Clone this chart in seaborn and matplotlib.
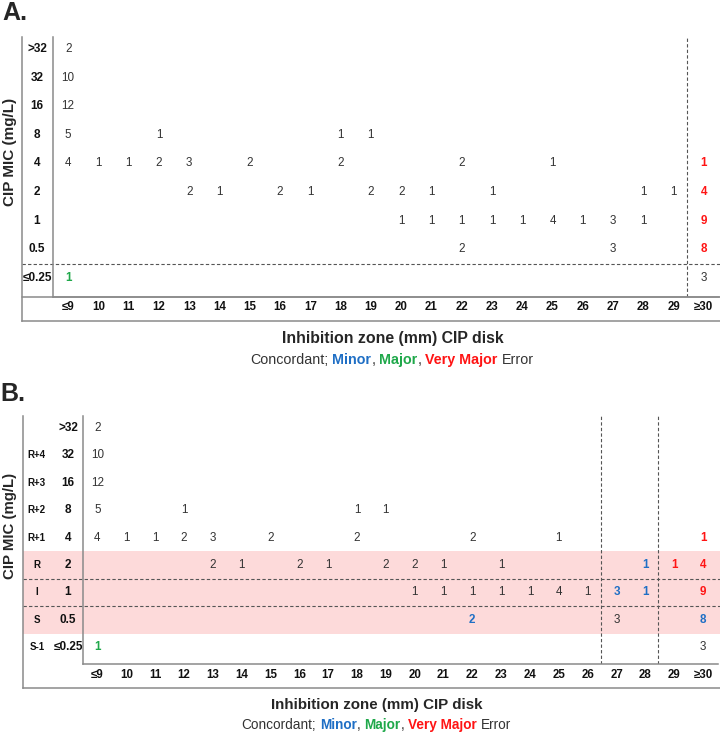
import numpy as np
import pandas as pd
import seaborn as sns
import matplotlib.pyplot as plt
from matplotlib.colors import ListedColormap

sns.set_style('white')
plt.rcParams['font.family'] = ['Liberation Sans', 'DejaVu Sans']

# MIC rows (top to bottom) and disk zone columns
mic_labels = ['>32', '32', '16', '8', '4', '2', '1', '0.5', '≤0.25']
zone_labels = ['≤9', '10', '11', '12', '13', '14', '15', '16', '17', '18', '19',
               '20', '21', '22', '23', '24', '25', '26', '27', '28', '29', '≥30']
band_labels = ['', 'R+4', 'R+3', 'R+2', 'R+1', 'R', 'I', 'S', 'S-1']

# number of isolates per cell, one list per MIC row (columns = zone_labels)
row_gt32 = [2, 0, 0, 0, 0, 0, 0, 0, 0, 0, 0, 0, 0, 0, 0, 0, 0, 0, 0, 0, 0, 0]
row_32 = [10, 0, 0, 0, 0, 0, 0, 0, 0, 0, 0, 0, 0, 0, 0, 0, 0, 0, 0, 0, 0, 0]
row_16 = [12, 0, 0, 0, 0, 0, 0, 0, 0, 0, 0, 0, 0, 0, 0, 0, 0, 0, 0, 0, 0, 0]
row_8 = [5, 0, 0, 1, 0, 0, 0, 0, 0, 1, 1, 0, 0, 0, 0, 0, 0, 0, 0, 0, 0, 0]
row_4 = [4, 1, 1, 2, 3, 0, 2, 0, 0, 2, 0, 0, 0, 2, 0, 0, 1, 0, 0, 0, 0, 1]
row_2 = [0, 0, 0, 0, 2, 1, 0, 2, 1, 0, 2, 2, 1, 0, 1, 0, 0, 0, 0, 1, 1, 4]
row_1 = [0, 0, 0, 0, 0, 0, 0, 0, 0, 0, 0, 1, 1, 1, 1, 1, 4, 1, 3, 1, 0, 9]
row_05 = [0, 0, 0, 0, 0, 0, 0, 0, 0, 0, 0, 0, 0, 2, 0, 0, 0, 0, 3, 0, 0, 8]
row_025 = [1, 0, 0, 0, 0, 0, 0, 0, 0, 0, 0, 0, 0, 0, 0, 0, 0, 0, 0, 0, 0, 3]
counts = np.array([row_gt32, row_32, row_16, row_8, row_4, row_2, row_1, row_05, row_025])

# error category of coloured cells, keyed by (MIC, zone)
errors_a = {('4', '≥30'): 'very major', ('2', '≥30'): 'very major',
            ('1', '≥30'): 'very major', ('0.5', '≥30'): 'very major',
            ('≤0.25', '≤9'): 'major'}
errors_b = {('4', '≥30'): 'very major', ('2', '28'): 'minor', ('2', '29'): 'very major',
            ('2', '≥30'): 'very major', ('1', '27'): 'minor', ('1', '28'): 'minor',
            ('1', '≥30'): 'very major', ('0.5', '22'): 'minor', ('0.5', '≥30'): 'minor',
            ('≤0.25', '≤9'): 'major'}

err_colors = {'minor': '#1f6fc5', 'major': '#1fa84a', 'very major': '#ff1414'}
dark = '#333333'
pink = '#fddada'
frame_c = '#8a8a8a'
dash_c = '#555555'
dash = (0, (3, 2))

W, H = 720, 734
fig = plt.figure(figsize=(W / 100, H / 100), dpi=100)


def frac(left, top, right, bottom):
    return [left / W, 1 - bottom / H, (right - left) / W, (bottom - top) / H]


def draw_panel(inner, outer, ylim, errors, shaded, vcuts, hcuts, ypad, xpad,
               side=False, full_bottom=False):
    ax_o = fig.add_axes(frac(*outer))
    ax = fig.add_axes(frac(*inner))
    ax_o.set_zorder(ax.get_zorder() + 1)
    ax_o.patch.set_alpha(0)
    ax_o.set_xticks([])
    ax_o.set_yticks([])
    for s in ['top', 'right']:
        ax_o.spines[s].set_visible(False)
    for s in ['left', 'bottom']:
        ax_o.spines[s].set_color(frame_c)
        ax_o.spines[s].set_linewidth(1.1)

    band = np.zeros(counts.shape)
    for i, lab in enumerate(band_labels):
        if lab in shaded:
            band[i] = 1
    annot = np.where(counts > 0, counts.astype(str), '')
    sns.heatmap(pd.DataFrame(band, index=mic_labels, columns=zone_labels), ax=ax,
                cmap=ListedColormap(['white', pink]), vmin=0, vmax=1, cbar=False,
                annot=annot, fmt='', annot_kws={'size': 8.4, 'color': dark})
    for t in ax.texts:
        x, y = t.get_position()
        key = (mic_labels[int(y)], zone_labels[int(x)])
        if key in errors:
            t.set_color(err_colors[errors[key]])
            t.set_fontweight('bold')

    ax.set_ylim(*ylim)
    ax.set_xlabel('')
    ax.set_ylabel('')
    for s in ['left', 'bottom']:
        ax.spines[s].set_visible(True)
        ax.spines[s].set_color(frame_c)
        ax.spines[s].set_linewidth(1.1)
    ax.set_yticklabels(mic_labels, rotation=0, fontweight='bold', fontsize=8.5,
                       ha='center', color='#111111')
    ax.set_xticklabels(zone_labels, rotation=0, fontweight='bold', fontsize=8.3,
                       color='#111111')
    ax.tick_params(axis='y', length=0, pad=ypad)
    ax.tick_params(axis='x', length=0, pad=xpad)

    width = inner[2] - inner[0]
    x_lo = (outer[0] - inner[0]) / width
    x_hi = (outer[2] - inner[0]) / width
    rows = [i for i, lab in enumerate(band_labels) if lab in shaded]
    if rows:
        ax.axhspan(min(rows), max(rows) + 1, xmin=x_lo, xmax=x_hi, color=pink,
                   lw=0, zorder=0, clip_on=False)
    for lab in hcuts:
        ax.axhline(mic_labels.index(lab), xmin=x_lo, xmax=x_hi, color=dash_c,
                   lw=0.8, ls=dash, clip_on=False)
    for lab in vcuts:
        ax.axvline(zone_labels.index(lab) - 0.05, color=dash_c, lw=0.8, ls=dash)
    if full_bottom:
        ax.axhline(ylim[0], xmin=x_lo, xmax=x_hi, color=frame_c, lw=1.1, clip_on=False)
    if side:
        for i, lab in enumerate(band_labels):
            ax.text(-1.6, i + 0.5, lab, ha='center', va='center', fontsize=7,
                    fontweight='bold', color='#111111', clip_on=False)
    return ax


def legend_line(cx, cy, size):
    parts = [('Concordant;', dark, 'normal', True), ('Minor', err_colors['minor'], 'bold', False),
             (',', dark, 'normal', True), ('Major', err_colors['major'], 'bold', False),
             (',', dark, 'normal', True), ('Very Major', err_colors['very major'], 'bold', True),
             ('Error', dark, 'normal', False)]
    r = fig.canvas.get_renderer()
    space = 0.278 * size * 100 / 72
    texts, widths = [], []
    for s, c, w, _ in parts:
        t = fig.text(0, 1 - cy / H, s, color=c, fontweight=w, fontsize=size,
                     ha='left', va='center')
        texts.append(t)
        widths.append(t.get_window_extent(r).width)
    total = sum(widths) + space * sum(p[3] for p in parts)
    x = cx - total / 2
    for t, wd, p in zip(texts, widths, parts):
        t.set_x(x / W)
        x += wd + (space if p[3] else 0)


# panel A
draw_panel(inner=(53, 37, 719, 297), outer=(22, 37, 720, 321), ylim=(9.17, 0.08),
           errors=errors_a, shaded=[], vcuts=['≥30'], hcuts=['≤0.25'],
           ypad=11.5, xpad=3.0, full_bottom=True)
fig.text(2 / W, 1 - 13 / H, 'A.', fontsize=18, fontweight='bold', ha='left', va='center')
fig.text(10 / W, 1 - 152 / H, 'CIP MIC (mg/L)', rotation=90, fontsize=11,
         fontweight='bold', ha='center', va='center')
fig.text(393 / W, 1 - 338 / H, 'Inhibition zone (mm) CIP disk', fontsize=11.4,
         fontweight='bold', ha='center', va='center')
legend_line(392, 360, 10.3)

# panel B
draw_panel(inner=(83, 416, 717.5, 664), outer=(23, 416, 720, 688), ylim=(9.11, 0.06),
           errors=errors_b, shaded=['R', 'I', 'S'], vcuts=['27', '29'], hcuts=['1', '0.5'],
           ypad=10.8, xpad=3.4, side=True)
fig.text(0, 1 - 394 / H, 'B.', fontsize=18, fontweight='bold', ha='left', va='center')
fig.text(10 / W, 1 - 526 / H, 'CIP MIC (mg/L)', rotation=90, fontsize=10.8,
         fontweight='bold', ha='center', va='center')
fig.text(377 / W, 1 - 705 / H, 'Inhibition zone (mm) CIP disk', fontsize=10.9,
         fontweight='bold', ha='center', va='center')
legend_line(376, 725, 9.8)

fig.savefig('out.png', dpi=100)
